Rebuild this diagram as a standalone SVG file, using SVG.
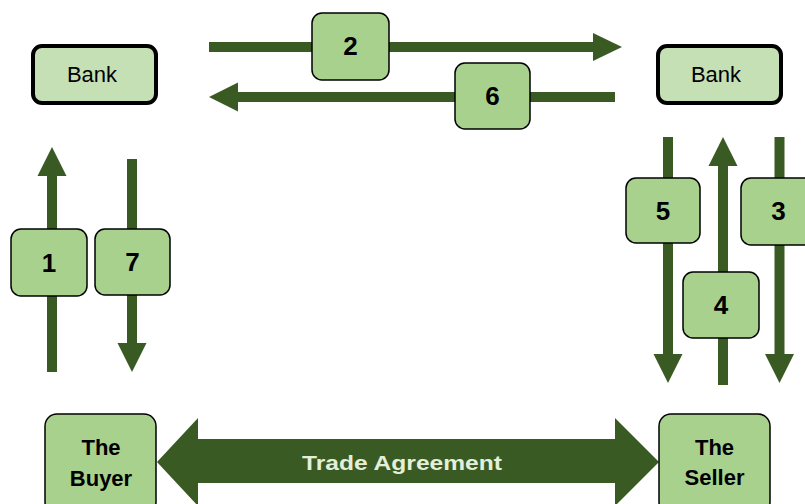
<svg xmlns="http://www.w3.org/2000/svg" width="805" height="504" viewBox="0 0 805 504">
<style>
.ln{stroke:#3a5a24;stroke-width:10;fill:none}
.hd{fill:#3a5a24}
.bank{fill:#c5e0b4;stroke:#000;stroke-width:4}
.lbl{fill:#a9d18e;stroke:#000;stroke-width:1.5}
.num{font-family:"Liberation Sans",Arial,sans-serif;font-weight:bold;font-size:26px;fill:#000;text-anchor:middle}
.bt{font-family:"Liberation Sans",Arial,sans-serif;font-size:22px;fill:#000;text-anchor:middle}
.pt{font-family:"Liberation Sans",Arial,sans-serif;font-weight:bold;font-size:22px;fill:#000;text-anchor:middle}
</style>
<rect width="805" height="504" fill="#fff"/>
<g id="connectors">
<line class="ln" x1="209" y1="47" x2="594" y2="47"/>
<polygon class="hd" points="593,33 622,47 593,61"/>
<line class="ln" x1="237" y1="97" x2="615" y2="97"/>
<polygon class="hd" points="238,82.5 209,97 238,111.5"/>
<line class="ln" x1="52" y1="175" x2="52" y2="372"/>
<polygon class="hd" points="37.5,176 52,147 66.5,176"/>
<line class="ln" x1="132" y1="159" x2="132" y2="344"/>
<polygon class="hd" points="117.5,343 132,372 146.5,343"/>
<line class="ln" x1="668" y1="137" x2="668" y2="355"/>
<polygon class="hd" points="653.5,354 668,383 682.5,354"/>
<line class="ln" x1="723" y1="165" x2="723" y2="385"/>
<polygon class="hd" points="708.5,166 723,137 737.5,166"/>
<line class="ln" x1="779.5" y1="137" x2="779.5" y2="355"/>
<polygon class="hd" points="765,354 779.5,383 794,354"/>
<polygon class="hd" points="157,462 198,418 198,439 615,439 615,418 659,462 615,506 615,483 198,483 198,506"/>
<text x="402" y="470" font-family="Liberation Sans,Arial,sans-serif" font-weight="bold" font-size="21" fill="#e2efd9" text-anchor="middle" textLength="200" lengthAdjust="spacingAndGlyphs">Trade Agreement</text>
</g>
<g id="bank-left"><rect class="bank" x="33" y="46" width="123" height="57" rx="9"/><text class="bt" x="92" y="82">Bank</text></g>
<g id="bank-right"><rect class="bank" x="658" y="46" width="123" height="57" rx="9"/><text class="bt" x="716" y="82">Bank</text></g>
<g id="step1"><rect class="lbl" x="11" y="229" width="76" height="67" rx="10"/><text class="num" x="49" y="272">1</text></g>
<g id="step7"><rect class="lbl" x="95" y="229" width="75" height="66" rx="10"/><text class="num" x="132.5" y="271">7</text></g>
<g id="step2"><rect class="lbl" x="312" y="13" width="77" height="67" rx="10"/><text class="num" x="350.5" y="55">2</text></g>
<g id="step6"><rect class="lbl" x="455" y="63" width="75" height="66" rx="10"/><text class="num" x="492.5" y="105">6</text></g>
<g id="step5"><rect class="lbl" x="626" y="178" width="74" height="65" rx="10"/><text class="num" x="663" y="220">5</text></g>
<g id="step4"><rect class="lbl" x="683" y="272" width="76" height="66" rx="10"/><text class="num" x="721" y="314">4</text></g>
<g id="step3"><rect class="lbl" x="741" y="178" width="75" height="67" rx="10"/><text class="num" x="778.5" y="220">3</text></g>
<g id="buyer"><rect class="lbl" x="45" y="414" width="111" height="100" rx="12"/><text class="pt" x="101" y="455">The</text><text class="pt" x="101" y="486">Buyer</text></g>
<g id="seller"><rect class="lbl" x="659" y="414" width="111" height="100" rx="12"/><text class="pt" x="714.5" y="455">The</text><text class="pt" x="714.5" y="485">Seller</text></g>
</svg>
